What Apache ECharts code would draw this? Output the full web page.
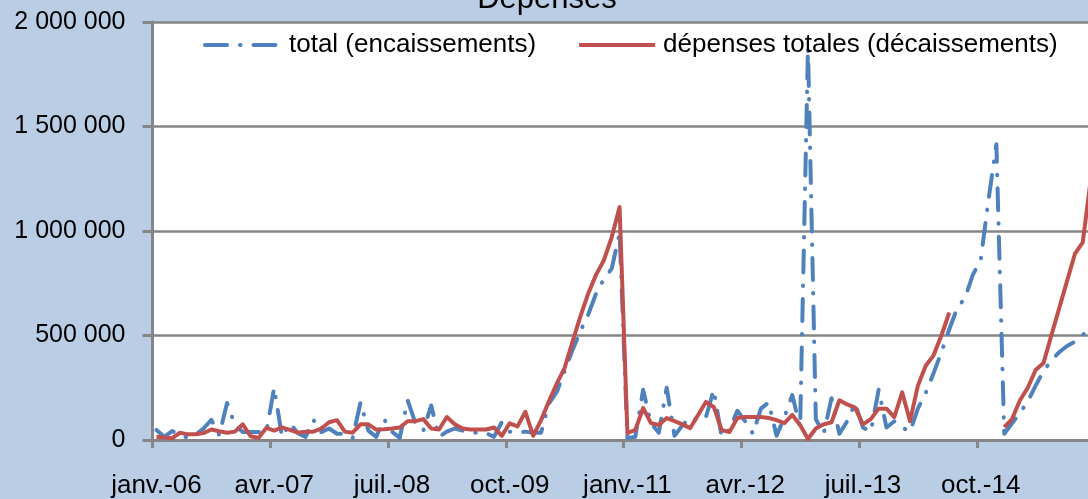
<!DOCTYPE html>
<html>
<head>
<meta charset="utf-8">
<script src="https://cdn.jsdelivr.net/npm/echarts@6/dist/echarts.min.js"></script>
<style>
html,body{margin:0;padding:0;background:#B9CDE4;overflow:hidden;width:1088px;height:499px;}
#c{width:1110px;height:499px;}
</style>
</head>
<body>
<div id="c"></div>
<script>
var monthNames = ['janv.','févr.','mars','avr.','mai','juin','juil.','août','sept.','oct.','nov.','déc.'];
var years = ['06','07','08','09','10','11','12','13','14','15'];
var categories = [];
years.forEach(function(y){ monthNames.forEach(function(m){ categories.push(m + '-' + y); }); });

var titleText = 'Dépenses';
var seriesNames = ['total (encaissements)', 'dépenses totales (décaissements)'];

// values in thousands
var encaissements = [
 48,15,43,24,10,25,55,96,24,177,
 72,38,38,38,38,250,15,80,33,15,
 96,38,55,30,30,10,180,45,15,100,
 40,10,190,80,45,165,15,40,55,45,
 35,35,33,15,85,40,35,40,35,35,
 175,230,330,430,520,600,700,770,820,990,
 10,15,240,80,35,250,20,70,110,90,
 110,240,15,50,140,90,30,150,180,20,
 110,215,60,1880,100,30,200,30,90,175,
 60,40,240,60,90,60,40,150,225,320,
 420,530,630,680,790,860,1150,1415,30,80,
 130,185,260,330,380,420,450,470,500,560
];
var depenses = [
 15,12,8,35,27,28,33,50,42,35,
 40,75,18,10,58,45,60,48,35,40,
 40,55,85,95,40,35,75,75,50,52,
 55,60,90,90,100,55,50,110,75,55,
 50,50,50,60,20,80,65,135,20,95,
 185,270,345,470,590,700,790,860,970,1115,
 33,48,153,81,72,105,90,75,57,120,
 182,158,48,38,105,110,110,110,105,95,
 81,120,72,5,55,75,85,190,170,155,
 75,100,150,150,110,228,90,260,355,405,
 500,610,null,null,null,null,null,null,62,100,
 190,250,335,368,500,630,760,890,945,1240
];

function k(a){ return a.map(function(v){ return v === null ? null : v * 1000; }); }
function fmt(v){ return String(v).replace(/\B(?=(\d{3})+(?!\d))/g, ' '); }

var FONT = 'Liberation Sans';
var chart = echarts.init(document.getElementById('c'), null, {renderer:'canvas'});
chart.setOption({
  backgroundColor: '#B9CDE4',
  animation: false,
  graphic: [{
    type: 'text', x: 547, y: 15,
    style: { text: titleText, fontFamily: FONT, fontSize: 31, fill: '#000', textAlign: 'center', textVerticalAlign: 'bottom' }
  }],
  legend: {
    left: 198, top: 27,
    itemWidth: 76, itemHeight: 14, itemGap: 41,
    itemStyle: { opacity: 0 },
    lineStyle: { width: 4 },
    textStyle: { fontFamily: FONT, fontSize: 26, color: '#000', padding: [0,0,0,3] },
    data: seriesNames
  },
  grid: { left: 152.5, top: 22, width: 942, height: 418, show: true, backgroundColor: '#fff', borderWidth: 0 },
  xAxis: {
    type: 'category', data: categories, boundaryGap: true,
    axisLine: { lineStyle: { color: '#868686', width: 3 } },
    axisTick: { show: true, interval: 14, length: 8, lineStyle: { color: '#868686', width: 3 } },
    axisLabel: { interval: 14, margin: 33, fontFamily: FONT, fontSize: 26, color: '#000' },
    splitLine: { show: false }
  },
  yAxis: {
    type: 'value', min: 0, max: 2000000, interval: 500000,
    axisLine: { show: true, lineStyle: { color: '#868686', width: 3 } },
    axisTick: { show: true, length: 10, lineStyle: { color: '#868686', width: 3 } },
    axisLabel: { margin: 27, fontFamily: FONT, fontSize: 25, color: '#000', formatter: function(v){ return fmt(v); } },
    splitLine: { show: true, lineStyle: { color: '#868686', width: 2.5 } }
  },
  series: [
    { name: seriesNames[0], type: 'line', data: k(encaissements), symbol: 'none', showSymbol: false,
      lineStyle: { color: '#4F81BD', width: 4, type: [22, 13, 0.5, 13], cap: 'round', join: 'round' },
      itemStyle: { color: '#4F81BD' } },
    { name: seriesNames[1], type: 'line', data: k(depenses), symbol: 'none', showSymbol: false,
      lineStyle: { color: '#C0504D', width: 4, join: 'round' },
      itemStyle: { color: '#C0504D' } }
  ]
});
</script>
</body>
</html>
